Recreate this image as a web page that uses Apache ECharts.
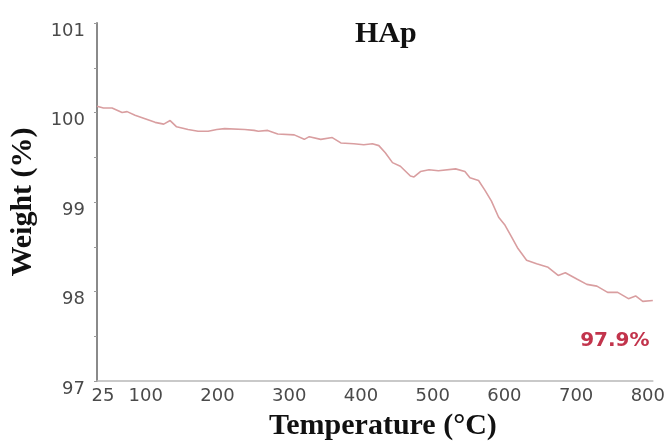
<!DOCTYPE html>
<html>
<head>
<meta charset="utf-8">
<script src="https://cdn.jsdelivr.net/npm/echarts@6/dist/echarts.min.js"></script>
<style>
  html, body { margin: 0; padding: 0; background: #fff; }
  #chart { width: 668px; height: 446px; }
</style>
</head>
<body>
<div id="chart"></div>
<script>
// TGA curve of hydroxyapatite (HAp)
const temperature = [25, 34, 46, 60, 67, 78, 92, 106, 118, 127, 136, 152, 166, 180, 192, 203, 231, 244, 250,
  263, 277, 300, 314, 321, 337, 353, 365, 383, 397, 409, 418, 427, 437, 448, 462, 467, 476, 488, 501,
  525, 538, 545, 557, 566, 575, 585, 594, 603, 612, 624, 638, 654, 668, 678, 694, 708, 722, 737, 751,
  766, 776, 786, 800];
const weight = [100.07, 100.05, 100.05, 100.00, 100.01, 99.97, 99.93, 99.89, 99.87, 99.91, 99.84, 99.81, 99.79, 99.79, 99.81, 99.82, 99.81, 99.80, 99.79,
  99.80, 99.76, 99.75, 99.70, 99.73, 99.70, 99.72, 99.66, 99.65, 99.64, 99.65, 99.63, 99.55, 99.44, 99.40, 99.29, 99.28, 99.34, 99.36, 99.35,
  99.37, 99.34, 99.27, 99.24, 99.13, 99.01, 98.83, 98.74, 98.61, 98.48, 98.35, 98.31, 98.27, 98.18, 98.21, 98.14, 98.08, 98.06, 97.99, 97.99,
  97.92, 97.95, 97.89, 97.90];
const xTicks = [25, 100, 200, 300, 400, 500, 600, 700, 800];
const yTicks = [97, 98, 99, 100, 101];

const points = temperature.map((t, i) => [t, weight[i]]);
const lastIdx = points.length - 1;

const chart = echarts.init(document.getElementById('chart'), null, { renderer: 'canvas' });
chart.setOption({
  backgroundColor: '#ffffff',
  animation: false,
  title: {
    text: 'HAp',
    left: 350,
    top: 14,
    textStyle: { fontFamily: 'Liberation Serif', fontWeight: 'bold', fontSize: 30, color: '#111' }
  },
  grid: { left: 97, right: 13, top: 23, bottom: 63 },
  xAxis: {
    type: 'value',
    min: 25,
    max: 800,
    name: 'Temperature (°C)',
    nameLocation: 'middle',
    nameGap: 30,
    nameTextStyle: { fontFamily: 'Liberation Serif', fontWeight: 'bold', fontSize: 30, color: '#111', padding: [0, 0, 0, 16] },
    axisLine: { show: true, lineStyle: { color: '#b8b8b8', width: 1.5 } },
    axisTick: { show: false },
    splitLine: { show: false },
    axisLabel: {
      customValues: xTicks,
      margin: 6,
      fontFamily: 'DejaVu Sans',
      fontSize: 18,
      color: '#4a4a4a',
      formatter: v => (v === xTicks[0] ? '{first|' + v + '}' : '{rest|' + v + '}'),
      rich: {
        first: { fontFamily: 'DejaVu Sans', fontSize: 18, color: '#4a4a4a', padding: [0, 0, 0, 12] },
        rest: { fontFamily: 'DejaVu Sans', fontSize: 18, color: '#4a4a4a', padding: [0, 10, 0, 0] }
      }
    }
  },
  yAxis: {
    type: 'value',
    min: 97,
    max: 101,
    interval: 0.5,
    name: 'Weight (%)',
    nameLocation: 'middle',
    nameGap: 59,
    nameTextStyle: { fontFamily: 'Liberation Serif', fontWeight: 'bold', fontSize: 30, color: '#111' },
    axisLine: { show: true, lineStyle: { color: '#8a8a8a', width: 2 } },
    axisTick: { show: true, length: 3, lineStyle: { color: '#9a9a9a', width: 1 } },
    splitLine: { show: false },
    axisLabel: {
      margin: 12,
      fontFamily: 'DejaVu Sans',
      fontSize: 18,
      color: '#4a4a4a',
      verticalAlign: 'top',
      lineHeight: 16,
      formatter: v => (yTicks.includes(v) ? String(v) : '')
    }
  },
  series: [{
    type: 'line',
    data: points,
    showSymbol: false,
    smooth: false,
    lineStyle: { color: '#d99ea0', width: 1.6 },
    markPoint: {
      symbol: 'circle',
      symbolSize: 0,
      data: [{ coord: points[lastIdx], value: weight[lastIdx] }],
      label: {
        show: true,
        position: 'inside',
        offset: [-38, 40],
        formatter: p => p.value.toFixed(1) + '%',
        fontFamily: 'DejaVu Sans',
        fontWeight: 'bold',
        fontSize: 20,
        color: '#c2344c'
      }
    }
  }]
});
</script>
</body>
</html>
